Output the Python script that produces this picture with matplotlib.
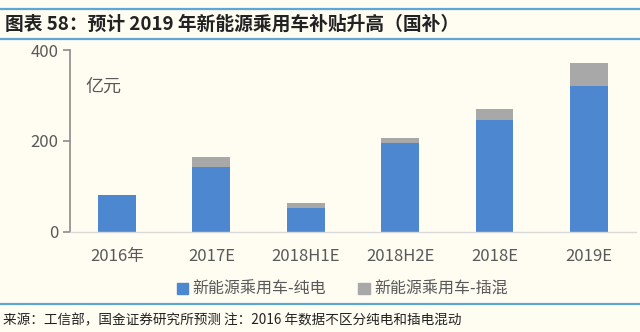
import matplotlib
matplotlib.use("Agg")
import matplotlib.pyplot as plt
from matplotlib.lines import Line2D
from matplotlib.patches import Patch

plt.rcParams['font.family'] = ['Noto Sans CJK SC', 'DejaVu Sans']

categories = ["2016年", "2017E", "2018H1E", "2018H2E", "2018E", "2019E"]
pure_ev = [82, 142, 53, 196, 246, 320]
phev = [0, 23, 10, 11, 24, 51]
series_names = ["新能源乘用车-纯电", "新能源乘用车-插混"]

title = "图表 58：预计 2019 年新能源乘用车补贴升高（国补）"
source = "来源：工信部，国金证券研究所预测 注：2016 年数据不区分纯电和插电混动"

bg = "#FFFCF2"
blue = "#4D87CF"
gray = "#A8A8A8"
rule = "#5DA7D4"
text_col = "#595959"

fig = plt.figure(figsize=(6.4, 3.32), dpi=100, facecolor=bg)
ax = fig.add_axes([0.109, 0.302, 0.885, 0.547], facecolor=bg)

x = list(range(len(categories)))
ax.bar(x, pure_ev, width=0.40, color=blue, zorder=2)
ax.bar(x, phev, width=0.40, bottom=pure_ev, color=gray, zorder=2)

ax.set_xlim(-0.5, 5.5)
ax.set_ylim(0, 400)
ax.set_yticks([0, 200, 400])
ax.set_xticks(x)
ax.set_xticklabels(categories)

for s in ["top", "right"]:
    ax.spines[s].set_visible(False)
ax.spines["left"].set_color("#8C8C8C")
ax.spines["left"].set_linewidth(1.2)
ax.spines["bottom"].set_color("#D9D9D9")
ax.spines["bottom"].set_linewidth(1.0)

ax.tick_params(axis="y", length=5, width=1.2, color="#8C8C8C",
               labelsize=12, labelcolor=text_col, pad=3)
ax.tick_params(axis="x", length=0, labelsize=12, labelcolor=text_col, pad=12)

ax.text(0.028, 0.80, "亿元", transform=ax.transAxes, fontsize=13,
        color=text_col, va="center", ha="left")

handles = [Patch(color=blue), Patch(color=gray)]
fig.legend(handles, series_names, loc="center", bbox_to_anchor=(0.535, 0.128),
           ncol=2, frameon=False, fontsize=11.5, labelcolor=text_col,
           handlelength=0.7, handleheight=0.7, handletextpad=0.3,
           columnspacing=2.0)

# header and footer rules
for yy in [1 - 9 / 332, 1 - 39 / 332, 1 - 304 / 332]:
    fig.add_artist(Line2D([0, 1], [yy, yy], transform=fig.transFigure,
                          color=rule, linewidth=1.6))

fig.text(0.008, 1 - 24 / 332, title, fontsize=13.5, fontweight="bold",
         color="#222222", va="center", ha="left")
fig.text(0.005, 1 - 320 / 332, source, fontsize=9.8, color="#222222",
         va="center", ha="left")

fig.savefig("out.png", dpi=100, facecolor=bg)
